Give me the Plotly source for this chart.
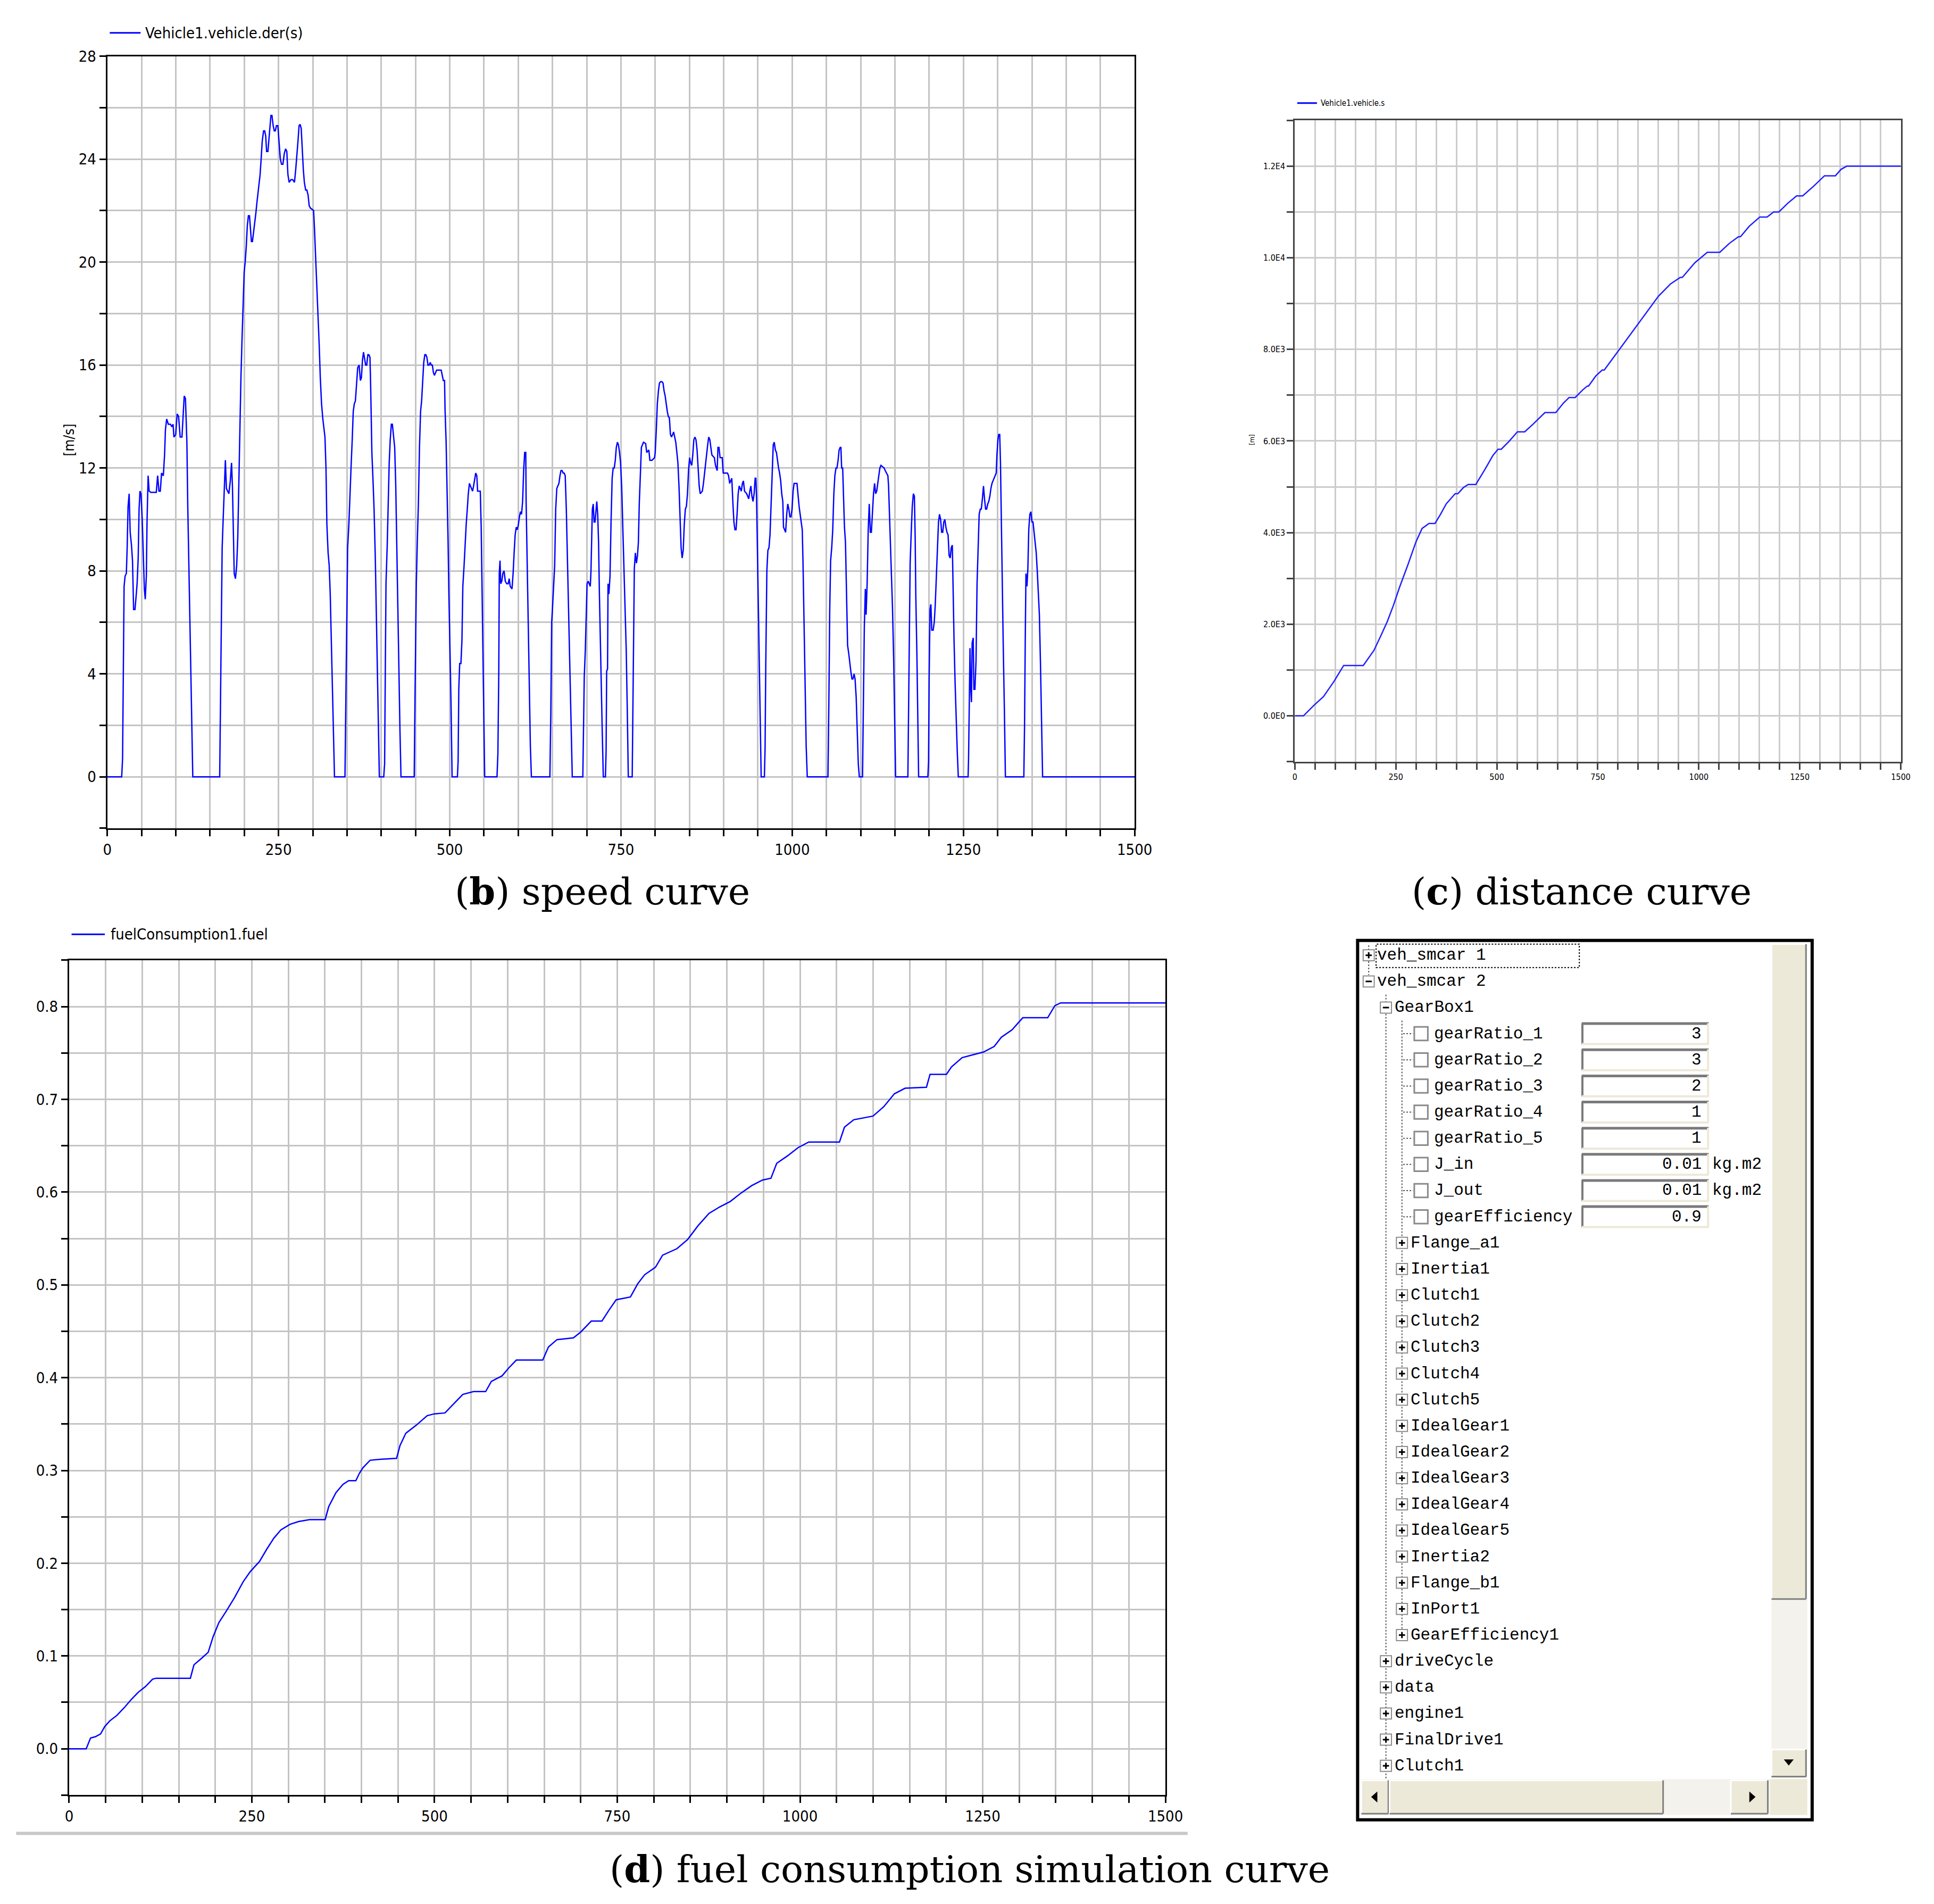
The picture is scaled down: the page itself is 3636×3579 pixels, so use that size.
import plotly.graph_objects as go

# reference measured on a 1568 x 1543 copy; converted to paper fractions below
SW, SH = 1568, 1543
W, H = 3636, 3579
# the photographed page comes out slightly scaled/offset; measured correction
KX, OX = 0.99, 5.8
KY, OY = 0.9958, 10.2

NARROW = "Liberation Sans Narrow, Arial Narrow, DejaVu Sans Condensed, Liberation Sans"
SERIF = "DejaVu Serif, Liberation Serif"
MONO = "Liberation Mono, DejaVu Sans Mono"

# ---- (b) speed curve : (time s, speed m/s) ----
speed_pts = [
    (0, 0), (21.0, 0), (22.3, 0.7), (23.5, 3.9), (24.5, 7.4), (26.0, 7.8), (27.8, 7.9), (29.0, 8.9),
    (30.3, 10.5), (31.9, 11.0), (33.4, 9.5), (35.3, 9.0), (36.8, 8.4), (38.4, 6.5), (40.4, 6.5),
    (42.0, 7.0), (43.5, 7.5), (45.1, 8.5), (46.4, 10.4), (47.7, 11.1), (49.2, 11.0), (51.0, 10.0),
    (52.6, 8.6), (54.1, 7.3), (55.4, 6.9), (57.0, 7.8), (58.0, 9.9), (59.6, 11.7), (61.1, 11.1),
    (63.7, 11.05), (71.5, 11.05), (73.5, 11.7), (75.4, 11.1), (77.4, 11.1), (79.2, 11.8), (81.8, 11.7),
    (83.6, 12.5), (84.9, 13.5), (86.7, 13.9), (89.1, 13.7), (92.2, 13.7), (94.2, 13.6), (96.0, 13.7),
    (97.3, 13.2), (99.9, 13.3), (102.0, 14.1), (104.1, 14.0), (106.4, 13.2), (109.0, 13.2),
    (110.8, 14.2), (112.3, 14.8), (114.1, 14.7), (116.2, 13.0), (117.5, 10.5), (119.0, 8.2),
    (120.6, 5.8), (122.1, 3.5), (123.9, 1.1), (124.8, 0),
    (164.1, 0), (165.1, 2.4), (166.2, 6.1), (167.7, 8.9), (169.3, 10.1), (171.1, 11.3), (172.4, 12.3),
    (173.9, 11.2), (175.5, 11.1), (177.5, 11.0), (179.6, 11.5), (181.4, 12.2), (182.7, 11.3),
    (184.0, 9.6), (185.3, 7.9), (187.1, 7.7), (188.9, 8.2), (190.5, 9.3), (192.0, 11.4), (193.6, 13.7),
    (195.1, 15.5), (196.7, 17.0), (198.2, 18.5), (199.8, 19.6), (201.3, 20.0), (202.9, 20.6),
    (204.4, 21.4), (206.0, 21.8), (207.6, 21.8), (209.1, 21.3), (210.4, 20.8), (211.9, 20.8),
    (213.8, 21.2), (215.3, 21.5), (216.9, 21.9), (218.4, 22.3), (220.0, 22.7), (221.5, 23.1),
    (223.1, 23.4), (224.6, 24.0), (226.2, 24.7), (228.2, 25.1), (229.8, 25.1), (231.3, 24.9),
    (232.6, 24.3), (234.5, 24.3), (235.7, 24.7), (237.0, 25.2), (238.9, 25.7), (240.4, 25.7),
    (242.2, 25.3), (243.8, 25.1), (245.3, 25.1), (246.9, 25.3), (249.0, 25.3), (250.7, 24.7),
    (252.6, 24.0), (254.4, 23.8), (256.4, 23.8), (258.3, 24.2), (260.3, 24.4), (262.1, 24.3),
    (263.7, 23.4), (265.5, 23.1), (268.1, 23.2), (270.7, 23.2), (273.3, 23.1), (275.1, 23.6),
    (276.6, 24.2), (278.4, 24.7), (280.0, 25.3), (281.5, 25.35), (283.1, 25.2), (284.6, 24.4),
    (286.2, 23.6), (287.7, 23.1), (289.6, 22.8), (291.4, 22.8), (293.2, 22.6), (294.7, 22.2),
    (296.5, 22.1), (299.1, 22.05), (301.2, 22.0), (302.5, 21.3), (303.8, 20.5), (305.1, 19.6),
    (306.4, 18.8), (307.9, 17.9), (309.5, 16.7), (311.0, 15.5), (312.8, 14.5), (314.7, 13.9),
    (316.2, 13.5), (317.8, 13.2), (319.3, 12.0), (320.6, 9.8), (322.4, 8.7), (324.0, 8.2),
    (325.5, 7.1), (327.1, 5.1), (328.4, 3.7), (330.2, 1.4), (331.7, 0),
    (347.0, 0), (348.3, 2.8), (349.6, 6.5), (350.9, 8.9), (352.7, 9.8), (354.2, 11.0), (356.0, 12.1),
    (357.6, 13.1), (359.1, 14.2), (360.7, 14.5), (362.2, 14.6), (363.8, 15.2), (365.6, 15.9),
    (367.7, 16.0), (369.5, 15.4), (371.0, 15.5), (372.6, 16.2), (374.1, 16.5), (375.7, 16.2),
    (377.2, 16.0), (378.8, 16.0), (380.4, 16.4), (381.9, 16.4), (383.5, 16.3), (384.5, 15.2),
    (386.3, 12.6), (388.0, 11.5), (389.5, 10.4), (391.3, 8.5), (392.8, 6.3), (394.3, 4.5),
    (395.9, 1.9), (397.2, 0),
    (403.6, 0), (404.9, 0.5), (405.7, 3.4), (406.9, 7.5), (408.7, 9.0), (410.0, 10.5), (411.6, 12.2),
    (413.1, 13.1), (414.7, 13.7), (416.2, 13.7), (418.0, 13.2), (419.6, 12.8), (421.1, 11.4),
    (422.6, 9.0), (424.2, 6.6), (425.7, 4.4), (427.3, 1.8), (428.8, 0),
    (448.1, 0), (449.4, 3.4), (451.2, 7.5), (452.7, 9.2), (454.3, 10.7), (455.8, 12.8), (457.4, 14.2),
    (458.9, 14.6), (460.5, 15.4), (462.0, 16.1), (463.6, 16.4), (465.1, 16.4), (466.6, 16.3),
    (468.2, 16.0), (470.0, 16.0), (471.5, 16.1), (473.1, 16.0), (474.6, 16.0), (476.2, 15.7),
    (477.7, 15.6), (479.2, 15.7), (480.8, 15.8), (487.5, 15.8), (489.0, 15.6), (490.6, 15.4),
    (492.4, 15.4), (493.1, 14.3), (494.7, 13.0), (496.2, 11.3), (497.5, 9.2), (498.8, 7.0),
    (500.3, 5.0), (501.9, 2.8), (503.4, 0),
    (511.2, 0), (512.2, 0.6), (513.2, 3.4), (514.5, 4.4), (516.3, 4.4), (517.8, 5.3), (519.1, 7.4),
    (520.9, 8.2), (522.5, 9.1), (524.0, 9.8), (525.6, 10.4), (527.1, 11.0), (528.7, 11.4),
    (530.2, 11.3), (531.7, 11.2), (533.3, 11.1), (534.8, 11.3), (536.4, 11.6), (537.9, 11.8),
    (539.5, 11.7), (540.7, 11.1), (544.6, 11.1), (545.9, 9.7), (547.2, 7.2), (548.5, 4.9),
    (549.7, 2.4), (551.0, 0),
    (569.0, 0), (570.3, 0.9), (571.6, 4.1), (572.3, 7.9), (573.4, 8.4), (574.4, 7.5), (576.0, 7.6),
    (577.5, 7.9), (579.3, 8.0), (581.1, 7.6), (583.2, 7.5), (585.3, 7.5), (586.8, 7.7), (588.3, 7.4),
    (590.9, 7.3), (592.5, 7.9), (594.0, 8.7), (595.5, 9.4), (597.1, 9.7), (598.6, 9.6), (600.2, 9.8),
    (601.7, 10.1), (603.3, 10.3), (604.8, 10.2), (606.4, 10.7), (607.9, 11.9), (609.4, 12.6),
    (611.0, 12.6), (611.5, 10.7), (613.1, 8.3), (614.6, 6.0), (616.2, 3.6), (617.7, 1.2), (619.2, 0),
    (646.2, 0), (647.5, 2.4), (648.8, 6.0), (650.1, 6.6), (651.4, 7.3), (653.2, 8.2), (654.7, 10.4),
    (656.3, 11.2), (657.8, 11.3), (659.4, 11.4), (660.9, 11.7), (662.4, 11.9), (664.0, 11.9),
    (665.5, 11.8), (667.1, 11.8), (668.6, 11.7), (670.2, 10.4), (671.7, 8.7), (673.3, 7.0),
    (674.8, 5.1), (676.3, 3.2), (677.9, 1.4), (678.9, 0),
    (694.3, 0), (695.4, 2.0), (696.4, 3.9), (697.9, 4.9), (699.0, 6.3), (700.5, 7.5), (702.1, 7.6),
    (703.6, 7.5), (705.2, 7.4), (706.2, 8.0), (707.2, 9.4), (708.2, 10.4), (709.5, 10.6),
    (710.8, 9.9), (712.1, 9.9), (713.4, 10.4), (714.7, 10.7), (716.0, 10.2), (717.3, 9.1),
    (718.5, 7.1), (720.1, 5.0), (721.4, 2.8), (722.7, 1.7), (724.2, 0),
    (727.3, 0), (728.3, 1.0), (729.1, 4.1), (730.4, 4.2), (731.1, 7.5), (732.4, 7.1), (734.0, 7.8),
    (735.5, 9.9), (737.1, 11.6), (738.6, 12.0), (740.2, 12.0), (741.7, 12.3), (743.2, 12.8),
    (744.8, 13.0), (746.3, 12.9), (747.9, 12.6), (749.4, 12.2), (751.0, 11.3), (752.5, 9.9),
    (754.3, 8.1), (756.1, 6.7), (757.7, 4.9), (759.2, 2.6), (760.7, 0),
    (766.4, 0), (767.9, 4.5), (769.5, 8.1), (771.0, 8.7), (772.6, 8.3), (774.1, 8.6), (775.4, 9.1),
    (776.7, 10.6), (778.3, 11.8), (779.8, 12.8), (782.9, 13.0), (786.0, 12.95), (787.6, 12.6),
    (790.7, 12.7), (792.2, 12.3), (795.3, 12.3), (799.0, 12.4), (800.0, 12.6), (801.6, 13.5),
    (803.1, 14.5), (804.7, 15.0), (806.2, 15.3), (807.8, 15.35), (809.8, 15.35), (811.4, 15.3),
    (812.9, 15.0), (814.5, 14.8), (816.0, 14.5), (817.6, 14.2), (819.1, 14.0), (820.7, 13.95),
    (822.2, 13.3), (823.8, 13.2), (826.9, 13.4), (830.0, 13.0), (831.6, 12.6), (833.1, 12.2),
    (834.7, 11.3), (836.2, 9.9), (837.8, 8.9), (839.3, 8.5), (840.9, 8.8), (842.4, 9.8),
    (844.0, 10.4), (845.5, 10.5), (847.1, 11.0), (848.6, 11.9), (850.2, 12.4), (851.7, 12.2),
    (853.3, 12.1), (854.8, 12.5), (856.4, 13.1), (857.9, 13.2), (859.5, 13.1), (861.1, 12.7),
    (862.6, 12.1), (864.2, 11.3), (865.7, 11.0), (868.8, 11.1), (870.4, 11.4), (871.9, 11.8),
    (873.5, 12.1), (875.0, 12.5), (876.6, 12.9), (878.1, 13.2), (879.7, 13.1), (881.2, 12.8),
    (882.8, 12.5), (886.4, 12.4), (888.0, 12.1), (890.5, 11.9), (891.6, 12.8), (893.1, 12.8),
    (894.7, 12.4), (897.8, 12.4), (899.3, 11.8), (905.5, 11.8), (907.1, 11.7), (908.7, 11.4),
    (911.8, 11.6), (913.3, 10.7), (914.9, 9.9), (916.4, 9.6), (918.0, 9.6), (919.5, 10.2),
    (921.1, 11.0), (922.6, 11.3), (925.7, 11.1), (927.3, 11.4), (928.8, 11.5), (930.4, 11.1),
    (933.5, 11.0), (936.6, 10.8), (938.1, 11.1), (939.7, 11.3), (941.2, 10.9), (942.8, 10.7),
    (944.4, 11.0), (945.9, 11.6), (946.9, 11.6), (948.0, 10.8), (949.0, 9.3), (950.0, 7.1),
    (951.6, 4.8), (953.2, 2.3), (954.7, 0),
    (959.4, 0), (960.4, 1.1), (961.4, 4.3), (963.0, 8.0), (964.5, 8.8), (966.1, 8.9), (967.6, 9.4),
    (969.2, 10.6), (970.7, 11.8), (972.3, 12.9), (973.8, 13.0), (975.4, 12.7), (977.0, 12.6),
    (978.5, 12.3), (980.1, 12.0), (981.6, 11.8), (983.2, 11.5), (984.7, 11.0), (986.3, 10.7),
    (987.3, 9.7), (990.4, 9.5), (992.0, 10.2), (993.5, 10.6), (995.1, 10.4), (996.6, 10.1),
    (998.2, 10.1), (999.7, 10.4), (1001.3, 11.1), (1002.8, 11.4), (1007.0, 11.4), (1008.5, 10.9),
    (1010.1, 10.5), (1011.6, 10.2), (1013.2, 9.9), (1014.7, 9.6), (1015.8, 8.3), (1017.3, 5.9),
    (1018.9, 3.6), (1020.4, 1.2), (1022.0, 0),
    (1052.2, 0), (1053.5, 2.8), (1054.8, 6.5), (1056.1, 8.4), (1057.7, 8.9), (1059.2, 9.6),
    (1060.8, 11.0), (1062.3, 11.7), (1063.9, 12.0), (1065.4, 12.0), (1067.0, 12.3), (1068.5, 12.7),
    (1070.1, 12.8), (1071.1, 12.8), (1072.2, 12.0), (1073.7, 12.0), (1074.7, 11.1), (1076.3, 9.7),
    (1077.8, 9.1), (1079.4, 7.1), (1080.9, 5.1), (1082.5, 4.8), (1084.0, 4.4), (1085.6, 4.1),
    (1087.2, 3.8), (1088.7, 3.8), (1090.3, 4.0), (1091.8, 3.8), (1093.4, 3.1), (1094.9, 1.9),
    (1096.5, 0.5), (1098.0, 0),
    (1102.7, 0), (1103.7, 2.3), (1105.3, 5.8), (1106.8, 7.3), (1107.9, 6.3), (1109.4, 7.5),
    (1111.0, 9.6), (1112.5, 10.6), (1114.1, 9.5), (1115.6, 9.5), (1117.2, 10.3), (1118.7, 11.0),
    (1120.3, 11.4), (1121.8, 11.0), (1123.4, 11.1), (1124.9, 11.4), (1126.5, 11.8), (1128.0, 12.0),
    (1129.6, 12.1), (1134.2, 12.0), (1135.8, 11.9), (1137.9, 11.8), (1139.7, 11.7), (1140.7, 11.3),
    (1141.7, 10.5), (1143.3, 9.3), (1144.8, 7.7), (1146.4, 6.6), (1148.2, 4.5), (1149.5, 1.9),
    (1151.0, 0),
    (1168.9, 0), (1169.6, 1.5), (1170.7, 4.8), (1172.2, 8.3), (1173.8, 9.5), (1175.3, 10.5),
    (1176.9, 11.0), (1178.4, 10.9), (1179.5, 9.4), (1180.5, 7.0), (1182.1, 4.7), (1183.6, 2.3),
    (1184.6, 0),
    (1198.1, 0), (1199.1, 0.6), (1199.9, 3.7), (1201.2, 6.5), (1202.5, 6.7), (1203.8, 5.7),
    (1205.8, 5.7), (1207.4, 6.0), (1208.9, 6.7), (1210.5, 7.8), (1212.0, 8.9), (1213.6, 9.9),
    (1215.1, 10.2), (1216.7, 10.0), (1218.2, 9.5), (1219.8, 9.5), (1221.3, 9.9), (1222.9, 10.0),
    (1224.4, 9.7), (1226.0, 9.5), (1227.6, 9.4), (1229.1, 8.6), (1230.7, 8.5), (1232.2, 8.9),
    (1233.8, 9.0), (1234.8, 7.2), (1236.3, 5.3), (1237.9, 3.6), (1239.4, 2.2), (1241.0, 1.0),
    (1242.5, 0),
    (1256.8, 0), (1257.5, 0.7), (1258.6, 3.8), (1259.6, 5.0), (1260.6, 3.5), (1261.7, 2.9),
    (1262.7, 5.2), (1264.3, 5.4), (1265.3, 3.4), (1266.8, 3.4), (1268.4, 4.5), (1269.9, 7.5),
    (1271.5, 8.9), (1273.0, 10.2), (1274.6, 10.4), (1276.1, 10.4), (1277.7, 10.8), (1279.3, 11.3),
    (1280.8, 10.8), (1282.4, 10.4), (1283.9, 10.4), (1285.5, 10.6), (1287.0, 10.7), (1288.6, 10.9),
    (1290.1, 11.2), (1291.7, 11.4), (1293.2, 11.5), (1294.8, 11.6), (1296.3, 11.7), (1297.9, 11.8),
    (1298.9, 12.5), (1300.4, 13.1), (1301.5, 13.3), (1303.0, 13.3), (1304.1, 12.2), (1305.4, 9.7),
    (1306.7, 7.3), (1308.2, 5.0), (1309.8, 2.6), (1311.3, 0),
    (1338.2, 0), (1339.2, 1.9), (1340.3, 5.4), (1341.3, 7.9), (1342.8, 7.4), (1344.1, 8.1),
    (1345.4, 9.6), (1347.0, 10.2), (1348.5, 10.3), (1350.1, 9.9), (1351.6, 9.9), (1353.2, 9.5),
    (1354.7, 9.1), (1356.3, 8.7), (1357.8, 8.0), (1359.4, 7.2), (1360.9, 6.3), (1362.5, 4.4),
    (1364.0, 2.2), (1365.6, 0), (1500, 0),
]
speed_t = [p[0] for p in speed_pts]
speed_v = [p[1] for p in speed_pts]

# ---- (c) distance curve : (time s, distance m) ----
dist_pts = [
    (0, 0), (21.5, 0), (47, 226), (71, 421), (97, 752), (121, 1100), (169.5, 1100), (196, 1430),
    (213, 1750), (229, 2060), (244, 2410), (259, 2800), (280, 3300), (300, 3800), (315, 4090),
    (332, 4200), (347, 4200), (360, 4390), (375, 4630), (397, 4850), (403.6, 4850), (417, 4980),
    (429, 5050), (448, 5050), (470, 5370), (490, 5680), (503, 5820), (511, 5820), (530, 5990),
    (551, 6200), (569, 6200), (590, 6370), (619, 6620), (646, 6620), (665, 6830), (679, 6950),
    (694, 6950), (712, 7110), (724, 7200), (727, 7200), (745, 7420), (761, 7550), (766, 7550),
    (800, 7960), (830, 8330), (860, 8690), (900, 9160), (930, 9430), (954, 9570), (959, 9570),
    (990, 9890), (1021, 10120), (1052, 10120), (1075, 10310), (1098, 10460), (1103, 10460),
    (1125, 10690), (1151, 10890), (1169, 10890), (1185, 11000), (1198, 11000), (1220, 11190),
    (1242, 11350), (1257, 11350), (1285, 11570), (1311, 11790), (1338, 11790), (1352, 11930),
    (1366, 12000), (1500, 12000),
]
dist_t = [p[0] for p in dist_pts]
dist_s = [p[1] for p in dist_pts]

# ---- (d) fuel consumption : (time s, fuel) ----
fuel_pts = [
    (0, 0), (23.4, 0), (29.3, 0.0115), (36, 0.013), (43, 0.016), (48.8, 0.024), (55.6, 0.030),
    (65.4, 0.036), (75.1, 0.044), (84.9, 0.053), (94.7, 0.061), (104.4, 0.067), (114.2, 0.075),
    (119, 0.076), (165.9, 0.076), (170.8, 0.0905), (180.5, 0.097), (190.3, 0.104), (197.1, 0.121),
    (204.9, 0.136), (214.7, 0.148), (226.4, 0.163), (238.1, 0.180), (247.9, 0.191), (260.6, 0.202),
    (270.3, 0.215), (280.1, 0.227), (289.8, 0.236), (302.5, 0.242), (314.2, 0.245), (328.9, 0.247),
    (350.3, 0.247), (355.2, 0.261), (365, 0.276), (374.7, 0.285), (382.5, 0.289), (392.3, 0.289),
    (397.2, 0.297), (402.1, 0.303), (411.8, 0.311), (426.5, 0.312), (448, 0.313), (452.8, 0.327),
    (460.6, 0.340), (475.3, 0.349), (489.9, 0.359), (499.7, 0.361), (514.3, 0.362), (524, 0.370),
    (538.7, 0.382), (553.3, 0.385), (569.9, 0.385), (577.7, 0.396), (592.4, 0.402), (602.1, 0.411),
    (611.9, 0.419), (648, 0.419), (655.8, 0.433), (667.5, 0.441), (690, 0.443), (699.7, 0.449),
    (714.4, 0.461), (729, 0.461), (738.8, 0.473), (748.5, 0.484), (768, 0.487), (777.8, 0.501),
    (787.5, 0.511), (802.2, 0.519), (812, 0.532), (831.5, 0.539), (846.3, 0.549), (860.7, 0.564),
    (875.4, 0.577), (890, 0.584), (904.7, 0.590), (919.3, 0.599), (933.9, 0.607), (948.6, 0.613),
    (960.3, 0.615), (968.1, 0.631), (982.7, 0.639), (997.4, 0.648), (1012, 0.654), (1054, 0.654),
    (1060.8, 0.670), (1073.5, 0.678), (1099.9, 0.682), (1114.5, 0.692), (1129.1, 0.706),
    (1143.8, 0.712), (1173, 0.713), (1177.9, 0.727), (1200.4, 0.727), (1207.2, 0.735),
    (1221.8, 0.745), (1236.5, 0.748), (1251.1, 0.751), (1265.7, 0.757), (1275.5, 0.767),
    (1290.1, 0.775), (1304.8, 0.788), (1338.9, 0.788), (1348.7, 0.801), (1356.5, 0.804), (1500, 0.804),
]
fuel_t = [p[0] for p in fuel_pts]
fuel_f = [p[1] for p in fuel_pts]

# tick labels
x_ticks = [0, 250, 500, 750, 1000, 1250, 1500]
speed_ticks = [0, 4, 8, 12, 16, 20, 24, 28]
dist_ticks = [0, 2000, 4000, 6000, 8000, 10000, 12000]
dist_labels = ["0.0E0", "2.0E3", "4.0E3", "6.0E3", "8.0E3", "1.0E4", "1.2E4"]
fuel_ticks = [0, 0.1, 0.2, 0.3, 0.4, 0.5, 0.6, 0.7, 0.8]
fuel_labels = ["0.0", "0.1", "0.2", "0.3", "0.4", "0.5", "0.6", "0.7", "0.8"]

# ---- parameter tree (screenshot panel) ----
tree_labels = ["veh_smcar 1", "veh_smcar 2", "GearBox1",
               "gearRatio_1", "gearRatio_2", "gearRatio_3", "gearRatio_4", "gearRatio_5",
               "J_in", "J_out", "gearEfficiency",
               "Flange_a1", "Inertia1", "Clutch1", "Clutch2", "Clutch3", "Clutch4", "Clutch5",
               "IdealGear1", "IdealGear2", "IdealGear3", "IdealGear4", "IdealGear5",
               "Inertia2", "Flange_b1", "InPort1", "GearEfficiency1",
               "driveCycle", "data", "engine1", "FinalDrive1", "Clutch1"]
tree_levels = [0, 0, 1] + [3] * 8 + [2] * 16 + [1] * 5
tree_open = {1, 2}
param_values = ["3", "3", "2", "1", "1", "0.01", "0.01", "0.9"]
param_units = ["", "", "", "", "", "kg.m2", "kg.m2", ""]


def fx(s):
    return (s - OX) / KX / SW


def fy(s):
    return 1 - (s - OY) / KY / SH


shapes = []
annotations = []


def rect(x0, y0, x1, y1, fill=None, color=None, width=0, dash=None):
    line = dict(width=width, color=color or "rgba(0,0,0,0)")
    if dash:
        line["dash"] = dash
    shapes.append(dict(type="rect", xref="paper", yref="paper", x0=fx(x0), x1=fx(x1),
                       y0=fy(y1), y1=fy(y0), fillcolor=fill or "rgba(0,0,0,0)", line=line,
                       layer="above"))


def seg(x0, y0, x1, y1, color="black", width=2, dash=None):
    line = dict(width=width, color=color)
    if dash:
        line["dash"] = dash
    shapes.append(dict(type="line", xref="paper", yref="paper", x0=fx(x0), x1=fx(x1),
                       y0=fy(y0), y1=fy(y1), line=line, layer="above"))


def tri(points, color="black"):
    path = "M " + " L ".join(f"{fx(a)},{fy(b)}" for a, b in points) + " Z"
    shapes.append(dict(type="path", xref="paper", yref="paper", path=path,
                       fillcolor=color, line=dict(width=0), layer="above"))


def text(x, y, s, size, family=NARROW, anchor="left", color="black", angle=0):
    annotations.append(dict(x=fx(x), y=fy(y), xref="paper", yref="paper", text=s,
                            showarrow=False, xanchor=anchor, yanchor="middle", textangle=angle,
                            font=dict(family=family, size=size, color=color)))


def bevel(x0, y0, x1, y1, fill="#ECE9D8"):
    rect(x0, y0, x1, y1, fill=fill)
    seg(x0, y0, x1, y0, "white", 3)
    seg(x0, y0, x0, y1, "white", 3)
    seg(x1, y0, x1, y1, "#808080", 3)
    seg(x0, y1, x1, y1, "#808080", 3)


# ---- legends, axis titles, captions ----
seg(88, 26, 113, 26, "#0000FF", 3)
text(116, 26, "Vehicle1.vehicle.der(s)", 29)
seg(1052, 83, 1068, 83, "#0000FF", 3)
text(1070, 83, "Vehicle1.vehicle.s", 15)
seg(57, 757, 84, 757, "#0000FF", 3)
text(88, 757, "fuelConsumption1.fuel", 29)
text(55, 356, "[m/s]", 26, angle=-90, anchor="center")
text(1015, 356, "[m]", 13, angle=-90, anchor="center")

text(488, 722, "(<b>b</b>) speed curve", 70, SERIF, "center")
text(1283, 722, "(<b>c</b>) distance curve", 70, SERIF, "center")
text(786, 1515, "(<b>d</b>) fuel consumption simulation curve", 70, SERIF, "center")
seg(12, 1486, 963, 1486, "#C8C8C8", 6)

# ---- tree panel ----
rect(1103, 764, 1468, 1473, fill="white")
ROW0, STEP = 774, 21.2
box_x = {0: 1110, 1: 1124, 2: 1137}
# dotted connectors
seg(1110, 766, 1110, 790, "#555555", 2, "dot")
seg(1124, 806, 1124, 1442, "#555555", 2, "dot")
seg(1137, 827, 1137, ROW0 + 26 * STEP, "#555555", 2, "dot")

p = 0
for i, (lab, lvl) in enumerate(zip(tree_labels, tree_levels)):
    y = ROW0 + i * STEP
    if lvl == 3:
        seg(1138, y, 1146, y, "#555555", 2, "dot")
        rect(1147, y - 5.5, 1158, y + 5.5, fill="white", color="#8A8A8A", width=3)
        text(1162, y, lab, 31, MONO)
        rect(1283, y - 8.5, 1386, y + 8.5, fill="white")
        seg(1283, y - 8.2, 1386, y - 8.2, "#7A7A7A", 5)
        seg(1283.5, y - 8.5, 1283.5, y + 8.5, "#7A7A7A", 4)
        seg(1283, y + 8.4, 1386, y + 8.4, "#ECE9D8", 4)
        seg(1385.5, y - 8.5, 1385.5, y + 8.5, "#ECE9D8", 4)
        text(1381, y, param_values[p], 31, MONO, "right")
        if param_units[p]:
            text(1388, y, param_units[p], 31, MONO)
        p += 1
        continue
    bx = box_x[lvl]
    rect(bx - 4.5, y - 4.5, bx + 4.5, y + 4.5, fill="white", color="#8C8C8C", width=2)
    seg(bx - 2.5, y, bx + 2.5, y, "black", 3)
    if i not in tree_open:
        seg(bx, y - 2.5, bx, y + 2.5, "black", 3)
    text(bx + 6, y, lab, 31, MONO)

# focus rectangle around the first node
rect(1116, 765, 1281, 784, color="black", width=2, dash="dot")

# vertical scrollbar
rect(1437, 765, 1466, 1441, fill="#F3F2EC")
bevel(1437, 765, 1465, 1296)
bevel(1437, 1418, 1465, 1440)
tri([(1447, 1426), (1455, 1426), (1451, 1431)])
# horizontal scrollbar
rect(1104, 1442, 1466, 1471, fill="#F3F2EC")
bevel(1104, 1443, 1126, 1470)
tri([(1112, 1456.5), (1117, 1452), (1117, 1461)])
bevel(1127, 1443, 1349, 1470)
bevel(1404, 1443, 1434, 1470)
tri([(1424, 1456.5), (1419, 1452), (1419, 1461)])
rect(1436, 1442, 1466, 1471, fill="#ECE9D8")
# outer frame
rect(1101, 762, 1470, 1475, color="black", width=6)

# ---- traces ----
fig = go.Figure()
line_style = dict(color="#0000FF", width=2.5)
fig.add_trace(go.Scatter(x=speed_t, y=speed_v, mode="lines", line=line_style, xaxis="x", yaxis="y"))
fig.add_trace(go.Scatter(x=dist_t, y=dist_s, mode="lines", line=dict(color="#1F1FFF", width=2.5),
                         xaxis="x2", yaxis="y2"))
fig.add_trace(go.Scatter(x=fuel_t, y=fuel_f, mode="lines", line=line_style, xaxis="x3", yaxis="y3"))


def axis(domain, rng, tickvals, ticktext, minor_dtick, anchor, size, lc="black", gc="#C4C4C4"):
    return dict(domain=domain, range=rng, anchor=anchor, tickmode="array", tickvals=tickvals,
                ticktext=ticktext, showline=True, linecolor=lc, linewidth=3, mirror=True,
                ticks="outside", ticklen=12, tickwidth=3, tickcolor=lc, showgrid=True,
                gridcolor=gc, gridwidth=2.5, zeroline=False,
                tickfont=dict(family=NARROW, size=size, color="black"),
                minor=dict(dtick=minor_dtick, tick0=0, showgrid=True, gridcolor=gc, gridwidth=2.5,
                           ticks="outside", ticklen=12, tickwidth=3, tickcolor=lc))


xlab = [str(v) for v in x_ticks]
fig.update_layout(
    width=W, height=H, margin=dict(l=0, r=0, t=0, b=0),
    paper_bgcolor="white", plot_bgcolor="white", showlegend=False,
    xaxis=axis([fx(86), fx(920)], [0, 1500], x_ticks, xlab, 50, "y", 29),
    yaxis=axis([fy(671), fy(45)], [-2, 28], speed_ticks, [str(v) for v in speed_ticks], 2, "x", 29),
    xaxis2=axis([fx(1050), fx(1542)], [0, 1500], x_ticks, xlab, 50, "y2", 16, "#444444", "#CCCCCC"),
    yaxis2=axis([fy(617), fy(97)], [-1000, 13000], dist_ticks, dist_labels, 1000, "x2", 16,
                "#444444", "#CCCCCC"),
    xaxis3=axis([fx(55), fx(945)], [0, 1500], x_ticks, xlab, 50, "y3", 29),
    yaxis3=axis([fy(1455), fy(778)], [-0.05, 0.85], fuel_ticks, fuel_labels, 0.05, "x3", 29),
    shapes=shapes, annotations=annotations,
)

fig.write_html("out.html")
